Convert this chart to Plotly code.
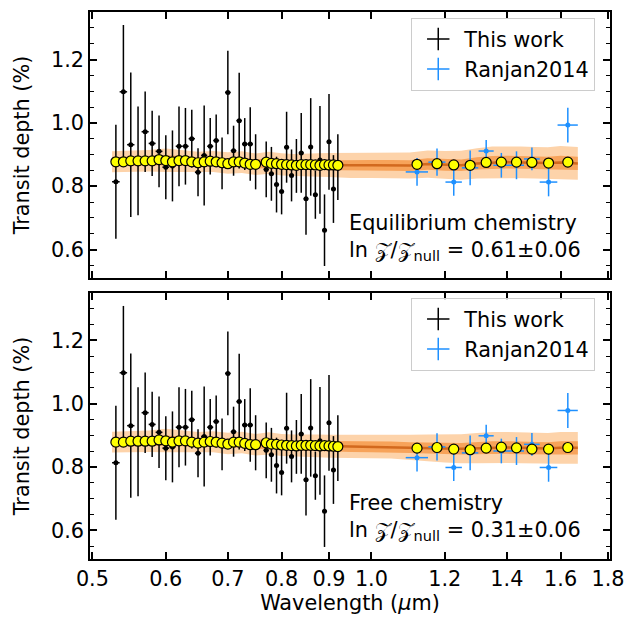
import numpy as np
import plotly.graph_objects as go

# ---------------- data ----------------
wl_this = [0.53, 0.54, 0.55, 0.56, 0.57, 0.58, 0.59, 0.60, 0.61, 0.62, 0.63, 0.64,
           0.65, 0.66, 0.67, 0.68, 0.69, 0.70, 0.71, 0.72, 0.73, 0.74, 0.75,
           0.77, 0.78, 0.79, 0.80, 0.81, 0.82, 0.83, 0.84, 0.85, 0.86, 0.87, 0.88,
           0.89, 0.90, 0.91, 0.92]
wl_this_halfbin = 0.005
depth_this = [0.814, 1.098, 0.931, 0.880, 0.972, 0.935, 0.910, 0.860, 0.864, 0.926, 0.926, 0.950,
              0.844, 0.897, 0.926, 0.944, 0.872, 1.096, 0.912, 1.007, 0.933, 0.933, 0.877,
              0.853, 0.839, 0.805, 0.783, 0.923, 0.834, 0.864, 0.905, 0.760, 0.924, 0.773, 0.883,
              0.661, 0.940, 0.791, 0.860]
err_this = [0.180, 0.211, 0.228, 0.172, 0.127, 0.103, 0.113, 0.101, 0.112, 0.126, 0.121, 0.091,
            0.076, 0.158, 0.089, 0.082, 0.082, 0.132, 0.079, 0.151, 0.082, 0.116, 0.087,
            0.088, 0.085, 0.088, 0.072, 0.112, 0.082, 0.085, 0.126, 0.113, 0.154, 0.076, 0.170,
            0.113, 0.151, 0.107, 0.104]

wl_ranjan = [1.120, 1.177, 1.227, 1.278, 1.330, 1.381, 1.434, 1.490, 1.553, 1.629]
xerr_ranjan = [0.031, 0.025, 0.025, 0.026, 0.025, 0.027, 0.027, 0.029, 0.034, 0.041]
err_ranjan = [0.044, 0.043, 0.043, 0.055, 0.035, 0.039, 0.044, 0.036, 0.045, 0.055]
depth_ranjan_eq = [0.845, 0.876, 0.813, 0.858, 0.911, 0.866, 0.866, 0.886, 0.813, 0.993]
depth_ranjan_free = [0.830, 0.864, 0.799, 0.845, 0.899, 0.851, 0.851, 0.872, 0.799, 0.979]

# binned model (yellow circles)
binned_this_eq = [0.877, 0.877, 0.880, 0.880, 0.880, 0.880, 0.884, 0.881, 0.877, 0.881, 0.881, 0.877,
                  0.874, 0.877, 0.879, 0.877, 0.874, 0.871, 0.877, 0.877, 0.873, 0.869, 0.869,
                  0.876, 0.872, 0.871, 0.869, 0.868, 0.867, 0.866, 0.868, 0.868, 0.868, 0.867, 0.866,
                  0.868, 0.867, 0.867, 0.866]
binned_this_free = [0.879, 0.879, 0.882, 0.882, 0.882, 0.882, 0.886, 0.883, 0.879, 0.883, 0.883, 0.879,
                    0.876, 0.879, 0.881, 0.879, 0.876, 0.873, 0.879, 0.879, 0.875, 0.871, 0.871,
                    0.877, 0.873, 0.872, 0.870, 0.869, 0.868, 0.867, 0.869, 0.869, 0.869, 0.868, 0.867,
                    0.868, 0.867, 0.866, 0.865]
binned_ranjan_eq = [0.869, 0.871, 0.867, 0.866, 0.875, 0.876, 0.876, 0.875, 0.873, 0.876]
binned_ranjan_free = [0.860, 0.862, 0.857, 0.855, 0.860, 0.863, 0.861, 0.857, 0.857, 0.862]

# model spectrum (median, 1 sigma and 2 sigma half widths)
wl_model = [0.525, 0.55, 0.575, 0.60, 0.625, 0.65, 0.675, 0.70, 0.725, 0.75, 0.775, 0.80,
            0.825, 0.85, 0.875, 0.90, 0.925, 0.95, 1.00, 1.05, 1.10, 1.15, 1.20, 1.25,
            1.30, 1.35, 1.40, 1.45, 1.50, 1.55, 1.60, 1.67]
med_eq = [0.877, 0.879, 0.880, 0.882, 0.880, 0.876, 0.878, 0.873, 0.876, 0.869, 0.874, 0.869,
          0.867, 0.868, 0.867, 0.867, 0.866, 0.866, 0.866, 0.866, 0.865, 0.870, 0.867, 0.866,
          0.872, 0.875, 0.876, 0.875, 0.874, 0.873, 0.875, 0.872]
s1_eq = [0.014, 0.014, 0.015, 0.016, 0.015, 0.014, 0.014, 0.015, 0.015, 0.015, 0.015, 0.015,
         0.015, 0.015, 0.016, 0.016, 0.016, 0.017, 0.017, 0.017, 0.017, 0.018, 0.018, 0.018,
         0.019, 0.020, 0.020, 0.020, 0.020, 0.020, 0.021, 0.021]
s2_eq = [0.033, 0.033, 0.034, 0.037, 0.035, 0.033, 0.033, 0.034, 0.034, 0.034, 0.035, 0.035,
         0.035, 0.036, 0.037, 0.038, 0.039, 0.040, 0.040, 0.040, 0.041, 0.043, 0.044, 0.046,
         0.048, 0.050, 0.050, 0.050, 0.050, 0.050, 0.052, 0.052]
med_free = [0.879, 0.881, 0.882, 0.884, 0.882, 0.878, 0.880, 0.875, 0.878, 0.871, 0.875, 0.870,
            0.868, 0.868, 0.867, 0.866, 0.866, 0.865, 0.864, 0.864, 0.862, 0.861, 0.859, 0.858,
            0.860, 0.862, 0.862, 0.861, 0.860, 0.859, 0.861, 0.861]
s1_free = [0.014, 0.014, 0.015, 0.016, 0.015, 0.014, 0.014, 0.015, 0.015, 0.015, 0.015, 0.015,
           0.015, 0.015, 0.016, 0.016, 0.016, 0.017, 0.017, 0.017, 0.017, 0.018, 0.018, 0.018,
           0.019, 0.020, 0.020, 0.020, 0.020, 0.020, 0.021, 0.021]
s2_free = [0.033, 0.033, 0.034, 0.037, 0.035, 0.033, 0.033, 0.034, 0.034, 0.034, 0.035, 0.035,
           0.035, 0.036, 0.036, 0.036, 0.036, 0.036, 0.036, 0.037, 0.040, 0.042, 0.044, 0.046,
           0.048, 0.049, 0.049, 0.049, 0.049, 0.049, 0.050, 0.050]

panel_labels = ["Equilibrium chemistry", "Free chemistry"]
evidence = ["0.61±0.06", "0.31±0.06"]
xtick_vals = [0.5, 0.6, 0.7, 0.8, 0.9, 1.0, 1.2, 1.4, 1.6, 1.8]
xtick_text = ["0.5", "0.6", "0.7", "0.8", "0.9", "1.0", "1.2", "1.4", "1.6", "1.8"]

# ---------------- style ----------------
FONT = "DejaVu Sans"
FS = 20.8
C_OUT = "#fdd3aa"
C_IN = "#f7a35a"
C_MED = "#d2691e"
C_BLUE = "#1e90ff"

W, H = 634, 622
ML, MR, MT, MB = 90, 15, 10, 63
PW, PH = W - ML - MR, H - MT - MB


def px2x(px):
    return (px - ML) / PW


def py2y(py):
    return (H - MB - py) / PH


fig = go.Figure()

panels = [
    dict(xa="x", ya="y", med=med_eq, s1=s1_eq, s2=s2_eq, rj=depth_ranjan_eq,
         bt=binned_this_eq, br=binned_ranjan_eq, legend="legend"),
    dict(xa="x2", ya="y2", med=med_free, s1=s1_free, s2=s2_free, rj=depth_ranjan_free,
         bt=binned_this_free, br=binned_ranjan_free, legend="legend2"),
]

for p in panels:
    med = np.array(p["med"])
    s1 = np.array(p["s1"])
    s2 = np.array(p["s2"])
    kw = dict(xaxis=p["xa"], yaxis=p["ya"], showlegend=False, hoverinfo="skip")
    # 2 sigma band
    fig.add_trace(go.Scatter(x=wl_model, y=med + s2, mode="lines", line=dict(width=0, color=C_OUT), **kw))
    fig.add_trace(go.Scatter(x=wl_model, y=med - s2, mode="lines", line=dict(width=0, color=C_OUT),
                             fill="tonexty", fillcolor=C_OUT, **kw))
    # 1 sigma band
    fig.add_trace(go.Scatter(x=wl_model, y=med + s1, mode="lines", line=dict(width=0, color=C_IN), **kw))
    fig.add_trace(go.Scatter(x=wl_model, y=med - s1, mode="lines", line=dict(width=0, color=C_IN),
                             fill="tonexty", fillcolor=C_IN, **kw))
    # median
    fig.add_trace(go.Scatter(x=wl_model, y=med, mode="lines", line=dict(width=2.5, color=C_MED), **kw))
    # this work
    fig.add_trace(go.Scatter(
        x=wl_this, y=depth_this, mode="markers",
        marker=dict(symbol="circle", size=5, color="black"),
        error_y=dict(type="data", array=err_this, thickness=1.5, width=0, color="black"),
        error_x=dict(type="constant", value=wl_this_halfbin, thickness=1.5, width=0, color="black"),
        **kw))
    # Ranjan2014
    fig.add_trace(go.Scatter(
        x=wl_ranjan, y=p["rj"], mode="markers",
        marker=dict(symbol="circle", size=5, color=C_BLUE),
        error_y=dict(type="data", array=err_ranjan, thickness=1.5, width=0, color=C_BLUE),
        error_x=dict(type="data", array=xerr_ranjan, thickness=1.5, width=0, color=C_BLUE),
        **kw))
    # binned model
    fig.add_trace(go.Scatter(
        x=wl_this + wl_ranjan, y=p["bt"] + p["br"], mode="markers",
        marker=dict(symbol="circle", size=10, color="#ffff00", line=dict(color="black", width=1.2)),
        **kw))
    # legend entries
    fig.add_trace(go.Scatter(
        x=[None], y=[None], mode="markers", name="This work", legend=p["legend"],
        marker=dict(symbol="cross-thin", size=16, color="black", line=dict(width=1.5, color="black")),
        xaxis=p["xa"], yaxis=p["ya"]))
    fig.add_trace(go.Scatter(
        x=[None], y=[None], mode="markers", name="Ranjan2014", legend=p["legend"],
        marker=dict(symbol="cross-thin", size=16, color=C_BLUE, line=dict(width=1.5, color=C_BLUE)),
        xaxis=p["xa"], yaxis=p["ya"]))

xr = [np.log10(0.497), np.log10(1.809)]
yr = [0.51, 1.35]

common_x = dict(type="log", range=xr, tickvals=xtick_vals, ticktext=xtick_text,
                ticks="inside", ticklen=7, tickwidth=1.5, tickcolor="black",
                showline=True, linecolor="black", linewidth=1.5, mirror="ticks",
                showgrid=False, zeroline=False,
                tickfont=dict(family=FONT, size=FS, color="black"))
common_y = dict(range=yr, tickvals=[0.6, 0.8, 1.0, 1.2], ticktext=["0.6", "0.8", "1.0", "1.2"],
                ticks="inside", ticklen=7, tickwidth=1.5, tickcolor="black",
                minor=dict(ticks="inside", ticklen=4, tickwidth=1.2, tickcolor="black", dtick=0.05,
                           tick0=0.5, showgrid=False),
                showline=True, linecolor="black", linewidth=1.5, mirror="ticks",
                showgrid=False, zeroline=False,
                tickfont=dict(family=FONT, size=FS, color="black"),
                title=dict(text="Transit depth (%)", font=dict(family=FONT, size=FS, color="black"),
                           standoff=16))

top_dom = [py2y(277), 1.0]
bot_dom = [0.0, py2y(292)]

legend_common = dict(font=dict(family=FONT, size=FS, color="black"), bgcolor="rgba(255,255,255,0.85)",
                     bordercolor="#cccccc", borderwidth=1, xanchor="right", yanchor="top",
                     itemsizing="trace", traceorder="normal", itemwidth=42)

fig.update_layout(
    width=W, height=H,
    margin=dict(l=ML, r=MR, t=MT, b=MB),
    paper_bgcolor="white", plot_bgcolor="white",
    font=dict(family=FONT, size=FS, color="black"),
    xaxis=dict(common_x, domain=[0, 1], anchor="y", showticklabels=False),
    yaxis=dict(common_y, domain=top_dom, anchor="x"),
    xaxis2=dict(common_x, domain=[0, 1], anchor="y2",
                title=dict(text="Wavelength (<i>μ</i>m)", font=dict(family=FONT, size=FS, color="black"),
                           standoff=6)),
    yaxis2=dict(common_y, domain=bot_dom, anchor="x2"),
    legend=dict(legend_common, x=px2x(604), y=py2y(16)),
    legend2=dict(legend_common, x=px2x(604), y=py2y(297)),
)

annots = []
for lab, ev, ytop in zip(panel_labels, evidence, [222, 503]):
    annots.append(dict(text=lab, x=px2x(351), y=py2y(ytop), xref="paper", yref="paper",
                       xanchor="left", yanchor="middle", showarrow=False,
                       font=dict(family=FONT, size=FS, color="black")))
    annots.append(dict(text="ln 𝒵/𝒵<sub>null</sub> = " + ev, x=px2x(351), y=py2y(ytop + 28),
                       xref="paper", yref="paper", xanchor="left", yanchor="middle", showarrow=False,
                       font=dict(family=FONT, size=FS, color="black")))
fig.update_layout(annotations=annots)

fig.write_html("out.html")
